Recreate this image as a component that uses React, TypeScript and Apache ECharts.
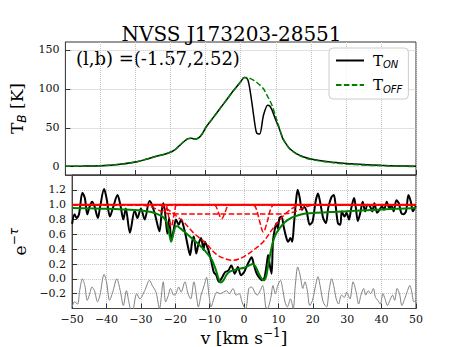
import React, { useEffect, useRef } from 'react';
import * as echarts from 'echarts';

const SERIF = '"DejaVu Serif", serif';
const SANS = '"DejaVu Sans", sans-serif';

// ---------- Top panel: brightness temperature ----------
const topVelocity = [-50, -45, -40, -35, -30, -27, -24, -21, -19, -17.5, -16, -15, -14, -13, -12, -11, -10, -8, -6, -4, -2, 0, 1, 2, 2.8, 3.5, 4.2, 4.6, 5.4, 6.5, 7.7, 8.3, 9, 10, 11, 12, 13, 14, 16, 18, 20, 25, 30, 35, 40, 45, 50];
const tOff = [0.5, 0.8, 1.3, 2.8, 6, 9.5, 13.5, 17, 21, 27, 33, 36, 36.5, 35.5, 37, 42, 50, 62, 74, 86, 98, 109, 114.5, 114.5, 113, 111.5, 109.5, 108, 105, 100, 90, 85, 78, 64, 50, 37, 29, 23, 16, 12, 9.5, 5.8, 3.6, 2.2, 1.3, 0.7, 0.3];
const tOn = [0.5, 0.8, 1.3, 2.8, 6, 9.5, 13.5, 17, 21, 27, 33, 36, 36.5, 35.5, 37, 42, 50, 62, 74, 86, 98, 109, 114.5, 112, 94, 72, 50, 43, 42, 66, 79, 78, 72, 60, 49, 36, 29, 23, 16.5, 12.5, 10, 6.5, 4.3, 2.8, 1.8, 1.1, 0.6];
const topTicks = [0, 50, 100, 150];

// ---------- Bottom panel: absorption spectrum e^-tau ----------
const absVelocity = [-50, -49.3, -48.7, -48, -47, -46.3, -45.6, -45, -44.2, -43.5, -42.5, -41.9, -40.7, -40, -39, -38.1, -36.8, -35.9, -35.1, -34.4, -33.2, -31.8, -31.0, -30.0, -28.9, -27.5, -26.8, -25.8, -24.6, -23.9, -23.5, -23.0, -22.3, -21.8, -21.1, -20.4, -19.8, -19.0, -18.3, -17.6, -17.0, -16.3, -15.7, -15.1, -14.6, -13.9, -13.3, -12.5, -11.8, -11.4, -10.7, -10.2, -9.5, -8.8, -8.1, -7.3, -6.5, -5.5, -4.6, -3.7, -2.7, -1.8, -0.9, 0.0, 0.5, 1.4, 2.2, 2.8, 3.5, 4.2, 5.2, 5.9, 6.6, 7.0, 7.5, 8.0, 8.4, 8.9, 9.4, 9.8, 10.3, 10.9, 11.5, 12.2, 12.8, 13.5, 14.0, 14.5, 15.2, 15.6, 16.2, 16.8, 17.5, 18.2, 19.1, 19.9, 20.8, 21.5, 22.1, 23.0, 23.8, 24.5, 25.4, 26.1, 26.6, 27.3, 28.0, 28.4, 29.2, 29.8, 30.5, 31.2, 32.0, 32.5, 33.1, 33.8, 34.5, 35.2, 35.9, 36.6, 37.3, 37.9, 38.7, 39.4, 40.1, 40.7, 41.5, 42.2, 42.9, 43.5, 44.3, 45.0, 45.7, 46.3, 47.1, 47.8, 48.5, 49.1, 49.7, 50];
const absValue = [0.74, 0.87, 0.82, 0.87, 1.16, 1.09, 0.87, 0.96, 1.04, 0.98, 0.82, 0.96, 1.21, 1.09, 0.84, 0.96, 1.13, 0.98, 0.80, 0.95, 0.62, 0.92, 0.82, 0.95, 0.80, 1.05, 1.0, 0.85, 0.64, 0.93, 1.02, 0.91, 0.61, 0.82, 0.52, 0.68, 0.80, 0.73, 0.80, 0.71, 0.59, 0.43, 0.32, 0.50, 0.57, 0.34, 0.46, 0.55, 0.39, 0.50, 0.43, 0.36, 0.23, 0.09, 0.05, -0.04, 0.01, 0.09, 0.11, 0.18, 0.07, 0.16, 0.05, 0.09, 0.14, 0.23, 0.29, 0.20, 0.09, 0.03, -0.02, 0.01, 0.20, 0.32, 0.18, 0.07, 0.50, 0.66, 0.75, 0.68, 0.82, 0.84, 0.71, 0.57, 0.50, 0.55, 0.50, 0.73, 1.09, 1.2, 1.09, 0.93, 0.97, 0.91, 0.73, 0.77, 1.04, 1.15, 1.04, 0.82, 0.75, 0.96, 1.1, 1.13, 1.0, 0.75, 0.73, 0.91, 0.84, 0.89, 0.80, 0.96, 1.09, 0.96, 0.78, 0.89, 1.04, 0.91, 1.0, 0.98, 0.91, 1.02, 0.89, 0.93, 0.98, 0.93, 1.04, 0.96, 0.98, 0.91, 1.06, 1.02, 0.89, 0.87, 0.91, 1.13, 1.04, 0.91, 0.96, 0.98];

const fitVelocity = [-50, -45, -40, -35, -30, -27, -25, -23.5, -22.5, -21.8, -21.2, -20.6, -20, -19.5, -18.5, -17.5, -16, -14, -12, -10.5, -9.3, -8.2, -7.4, -6.8, -6, -5, -4, -2, 0, 1.5, 2.5, 3.3, 4.2, 5, 5.7, 6.4, 7, 7.6, 8.2, 9, 10.3, 12, 14, 16, 18, 21, 25, 30, 35, 40, 45, 50];
const fitValue = [0.955, 0.95, 0.945, 0.935, 0.92, 0.9, 0.87, 0.83, 0.76, 0.62, 0.5, 0.6, 0.7, 0.71, 0.68, 0.64, 0.58, 0.5, 0.41, 0.33, 0.25, 0.12, 0.0, -0.05, -0.02, 0.06, 0.1, 0.13, 0.15, 0.18, 0.2, 0.17, 0.08, 0.01, -0.02, 0.03, 0.18, 0.33, 0.46, 0.58, 0.68, 0.77, 0.83, 0.86, 0.88, 0.89, 0.9, 0.91, 0.925, 0.935, 0.945, 0.955];

const residVelocity = [-50, -49.35, -48.4, -47.8, -47.0, -46.3, -45.6, -45.0, -44.2, -43.5, -42.6, -41.9, -40.7, -40.0, -39.1, -38.2, -37.0, -36.0, -35.1, -34.2, -33.5, -32.6, -31.2, -30.3, -28.9, -27.5, -26.7, -25.6, -24.6, -23.5, -22.8, -22.0, -21.4, -20.4, -19.8, -19.0, -18.3, -17.2, -16.3, -15.5, -14.6, -13.6, -13.3, -12.5, -11.6, -10.9, -10.2, -9.6, -8.8, -7.9, -6.9, -6.0, -5.1, -4.3, -3.2, -2.3, -1.4, -0.6, 0.0, 0.5, 1.4, 2.2, 3.1, 3.8, 4.7, 5.4, 5.9, 6.3, 6.8, 7.8, 8.4, 9.1, 9.8, 10.6, 11.2, 11.9, 12.6, 13.5, 14.3, 14.9, 15.6, 16.3, 17.1, 17.7, 18.4, 19.1, 19.9, 20.8, 21.5, 22.1, 23.0, 24.0, 24.7, 25.5, 26.1, 26.8, 27.5, 28.3, 29.2, 29.8, 30.8, 31.7, 32.6, 33.3, 34.0, 34.8, 35.4, 36.1, 36.8, 37.6, 38.2, 38.9, 39.6, 40.4, 41.0, 41.7, 42.4, 43.2, 43.8, 44.5, 45.2, 45.9, 46.7, 47.4, 48.2, 48.7, 49.4, 50];
const residValue = [-0.38, -0.31, -0.34, -0.16, 0.0, -0.09, -0.29, -0.22, -0.11, -0.16, -0.31, -0.22, 0.06, -0.04, -0.29, -0.18, 0.0, -0.16, -0.36, -0.16, -0.31, -0.48, -0.20, -0.27, -0.16, -0.02, -0.09, -0.18, -0.40, -0.04, -0.31, -0.22, -0.13, -0.22, -0.20, -0.11, -0.18, -0.04, -0.20, -0.27, -0.04, -0.31, -0.38, -0.22, -0.09, 0.02, -0.22, -0.38, -0.27, -0.18, -0.20, -0.18, -0.16, -0.20, -0.13, -0.22, -0.20, -0.31, -0.38, -0.40, -0.13, -0.11, -0.18, -0.22, -0.16, -0.09, -0.20, -0.38, -0.40, -0.25, -0.09, -0.20, -0.09, -0.02, -0.13, -0.31, -0.38, -0.27, -0.40, -0.09, 0.16, 0.05, -0.13, -0.04, -0.16, -0.36, -0.29, -0.09, 0.03, -0.09, -0.31, -0.38, -0.16, 0.0, -0.10, -0.27, -0.34, -0.22, -0.25, -0.18, -0.27, -0.04, -0.18, -0.34, -0.22, -0.13, -0.22, -0.16, -0.20, -0.13, -0.25, -0.29, -0.34, -0.20, -0.27, -0.36, -0.29, -0.22, -0.29, -0.13, -0.20, -0.36, -0.27, -0.18, -0.09, -0.16, -0.31, -0.29];

// Gaussian components (e^-tau of each component)
const compBroadShallowVel = [-50, -32, -29, -27, -25, -23.5, -22, -18, -5, 10, 12.5, 14.5, 16, 17.5, 19, 21, 50];
const compBroadShallowVal = [1, 1, 0.99, 0.97, 0.93, 0.895, 0.88, 0.875, 0.873, 0.875, 0.88, 0.9, 0.93, 0.96, 0.985, 1, 1];
const compBroadDeepVel = [-50, -26, -24, -23.2, -21.4, -19.5, -17.6, -14.9, -11.1, -8.3, -5.5, -3.2, 0, 2.8, 5.6, 8.4, 10.3, 12.1, 14, 15.9, 18, 50];
const compBroadDeepVal = [1, 1, 0.99, 0.97, 0.91, 0.84, 0.77, 0.63, 0.48, 0.34, 0.27, 0.25, 0.3, 0.39, 0.5, 0.68, 0.79, 0.88, 0.95, 0.99, 1, 1];
const compNarrowAVel = [-50, -9, -8.2, -7.5, -6.5, -5.5, -4.8, -4, 50];
const compNarrowAVal = [1, 1, 0.98, 0.9, 0.81, 0.9, 0.98, 1, 1];
const compNarrowBVel = [-50, 2.5, 3.5, 4.5, 5.6, 6.8, 7.8, 8.8, 50];
const compNarrowBVal = [1, 1, 0.95, 0.78, 0.63, 0.78, 0.95, 1, 1];
const compNarrowCVel = [-50, -23, -22.2, -21.2, -20.2, -19.4, 50];
const compNarrowCVal = [1, 1, 0.9, 0.7, 0.9, 1, 1];
const compNarrowDVel = [-50, -24.3, -23.6, -23, -22.4, -21.7, 50];
const compNarrowDVal = [1, 1, 0.96, 0.91, 0.96, 1, 1];
const unityVel = [-50, 50];
const unityVal = [1, 1];

const bottomTicks = [-0.2, 0, 0.2, 0.4, 0.6, 0.8, 1.0, 1.2];

const pairs = (xs: number[], ys: number[]) => xs.map((x, i) => [x, ys[i]]);
const minus = (s: string) => s.replace('-', '\u2212');

export default function App() {
  const ref = useRef<HTMLDivElement>(null);
  useEffect(() => {
    if (!ref.current) return;
    const chart = echarts.init(ref.current, undefined, { renderer: 'svg' });
    const gridLine = { show: true, lineStyle: { type: 'dotted', color: '#c4c4c4', width: 1 } };
    const tick = { show: true, inside: true, length: 5, lineStyle: { color: '#333', width: 1 } };
    const tickLabel = { fontFamily: SERIF, fontSize: 11, color: '#111' };
    const xBase = {
      type: 'value', min: -50, max: 50, interval: 10,
      axisLine: { show: true, onZero: false, lineStyle: { color: '#444', width: 1 } },
      axisTick: tick, splitLine: gridLine,
    };
    const dashed = (name: string, xs: number[], ys: number[]) => ({
      name, type: 'line', xAxisIndex: 1, yAxisIndex: 1, data: pairs(xs, ys), showSymbol: false, symbol: 'none',
      smooth: 0.35, lineStyle: { color: '#ff0000', width: 1.5, type: [5.5, 2.4] }, itemStyle: { color: '#ff0000' }, z: 4,
    });
    const option: any = {
      animation: false,
      backgroundColor: '#ffffff',
      title: {
        text: 'NVSS J173203-28551', left: 'center', top: 19,
        textStyle: { fontFamily: SERIF, fontSize: 20, fontWeight: 'normal', color: '#000' },
      },
      grid: [
        { left: 57.5, top: 42, width: 358.5, height: 133, show: true, borderColor: '#333', borderWidth: 1, backgroundColor: 'transparent' },
        { left: 57.5, top: 175, width: 358.5, height: 134, show: true, borderColor: '#333', borderWidth: 1, backgroundColor: 'transparent' },
      ],
      xAxis: [
        { ...xBase, gridIndex: 0, axisLabel: { show: false } },
        {
          ...xBase, gridIndex: 1,
          axisLabel: { ...tickLabel, margin: 5, formatter: (v: number) => minus(String(v)) },
          name: '{a|v [km s}{sup|\u22121}{a|]}', nameLocation: 'middle', nameGap: 18,
          nameTextStyle: {
            rich: {
              a: { fontFamily: SERIF, fontSize: 17, color: '#000', lineHeight: 22 },
              sup: { fontFamily: SERIF, fontSize: 12, color: '#000', lineHeight: 14, verticalAlign: 'top' },
            },
          },
        },
      ],
      yAxis: [
        {
          type: 'value', gridIndex: 0, min: -10.6, max: 160,
          axisLine: { show: true, onZero: false, lineStyle: { color: '#444' } },
          axisTick: { ...tick, customValues: topTicks },
          axisLabel: { ...tickLabel, margin: 6, customValues: topTicks },
          splitLine: gridLine,
          name: '{t|T}{s|B}{t| [K]}', nameLocation: 'middle', nameGap: 32,
          nameTextStyle: {
            rich: {
              t: { fontFamily: SERIF, fontSize: 17, color: '#000', lineHeight: 22 },
              s: { fontFamily: SANS, fontStyle: 'italic', fontSize: 12, color: '#000', lineHeight: 12, verticalAlign: 'bottom' },
            },
          },
        },
        {
          type: 'value', gridIndex: 1, min: -0.4, max: 1.4,
          axisLine: { show: true, onZero: false, lineStyle: { color: '#444' } },
          axisTick: { ...tick, customValues: bottomTicks },
          axisLabel: { ...tickLabel, margin: 6, customValues: bottomTicks, formatter: (v: number) => minus(v.toFixed(1)) },
          splitLine: gridLine,
          name: '{e|e}{sup|\u2212\u03c4}', nameLocation: 'middle', nameGap: 36,
          nameTextStyle: {
            rich: {
              e: { fontFamily: SERIF, fontSize: 17, color: '#000', lineHeight: 24 },
              sup: { fontFamily: SANS, fontStyle: 'italic', fontSize: 12, color: '#000', lineHeight: 14, verticalAlign: 'top' },
            },
          },
        },
      ],
      legend: {
        data: ['T_ON', 'T_OFF'], orient: 'vertical', left: 329, top: 48,
        padding: [5, 6, 5, 6], itemWidth: 28, itemHeight: 14, itemGap: 8,
        backgroundColor: 'rgba(255,255,255,0.8)', borderColor: '#cccccc', borderWidth: 1, borderRadius: 4,
        itemStyle: { opacity: 0 },
        formatter: (name: string) => (name === 'T_ON' ? '{t|T}{s|ON}' : '{t|T}{s|OFF}'),
        textStyle: {
          rich: {
            t: { fontFamily: SERIF, fontSize: 15, color: '#000', lineHeight: 18, padding: [0, 0, 0, 4] },
            s: { fontFamily: SANS, fontStyle: 'italic', fontSize: 10, color: '#000', lineHeight: 11, verticalAlign: 'bottom' },
          },
        },
      },
      graphic: [
        { type: 'text', left: 76, top: 49, style: { text: '(l,b) =(-1.57,2.52)', font: '18px "DejaVu Serif", serif', fill: '#000' } },
      ],
      series: [
        {
          name: 'T_ON', type: 'line', xAxisIndex: 0, yAxisIndex: 0, data: pairs(topVelocity, tOn),
          showSymbol: false, symbol: 'none', smooth: 0.3, lineStyle: { color: '#000', width: 1.5 }, itemStyle: { color: '#000' }, z: 3,
        },
        {
          name: 'T_OFF', type: 'line', xAxisIndex: 0, yAxisIndex: 0, data: pairs(topVelocity, tOff),
          showSymbol: false, symbol: 'none', smooth: 0.3, lineStyle: { color: '#008000', width: 1.5, type: [5.5, 2.4] }, itemStyle: { color: '#008000' }, z: 4,
        },
        {
          name: 'residual', type: 'line', xAxisIndex: 1, yAxisIndex: 1, data: pairs(residVelocity, residValue),
          showSymbol: false, symbol: 'none', smooth: 0.3, lineStyle: { color: '#808080', width: 1 }, itemStyle: { color: '#808080' }, z: 2, clip: true,
        },
        {
          name: 'absorption', type: 'line', xAxisIndex: 1, yAxisIndex: 1, data: pairs(absVelocity, absValue),
          showSymbol: false, symbol: 'none', smooth: 0.3, lineStyle: { color: '#000', width: 2 }, itemStyle: { color: '#000' }, z: 3,
        },
        {
          name: 'fit', type: 'line', xAxisIndex: 1, yAxisIndex: 1, data: pairs(fitVelocity, fitValue),
          showSymbol: false, symbol: 'none', smooth: 0.3, lineStyle: { color: '#008000', width: 2 }, itemStyle: { color: '#008000' }, z: 4,
        },
        dashed('comp1', compBroadShallowVel, compBroadShallowVal),
        dashed('comp2', compBroadDeepVel, compBroadDeepVal),
        dashed('comp3', compNarrowAVel, compNarrowAVal),
        dashed('comp4', compNarrowBVel, compNarrowBVal),
        dashed('comp5', compNarrowCVel, compNarrowCVal),
        dashed('comp6', compNarrowDVel, compNarrowDVal),
        {
          name: 'unity', type: 'line', xAxisIndex: 1, yAxisIndex: 1, data: pairs(unityVel, unityVal),
          showSymbol: false, symbol: 'none', lineStyle: { color: '#ff0000', width: 2 }, itemStyle: { color: '#ff0000' }, z: 5,
        },
      ],
    };
    chart.setOption(option);
    return () => chart.dispose();
  }, []);
  return <div ref={ref} style={{ position: 'fixed', left: 0, top: 0, width: 463, height: 347 }} />;
}
